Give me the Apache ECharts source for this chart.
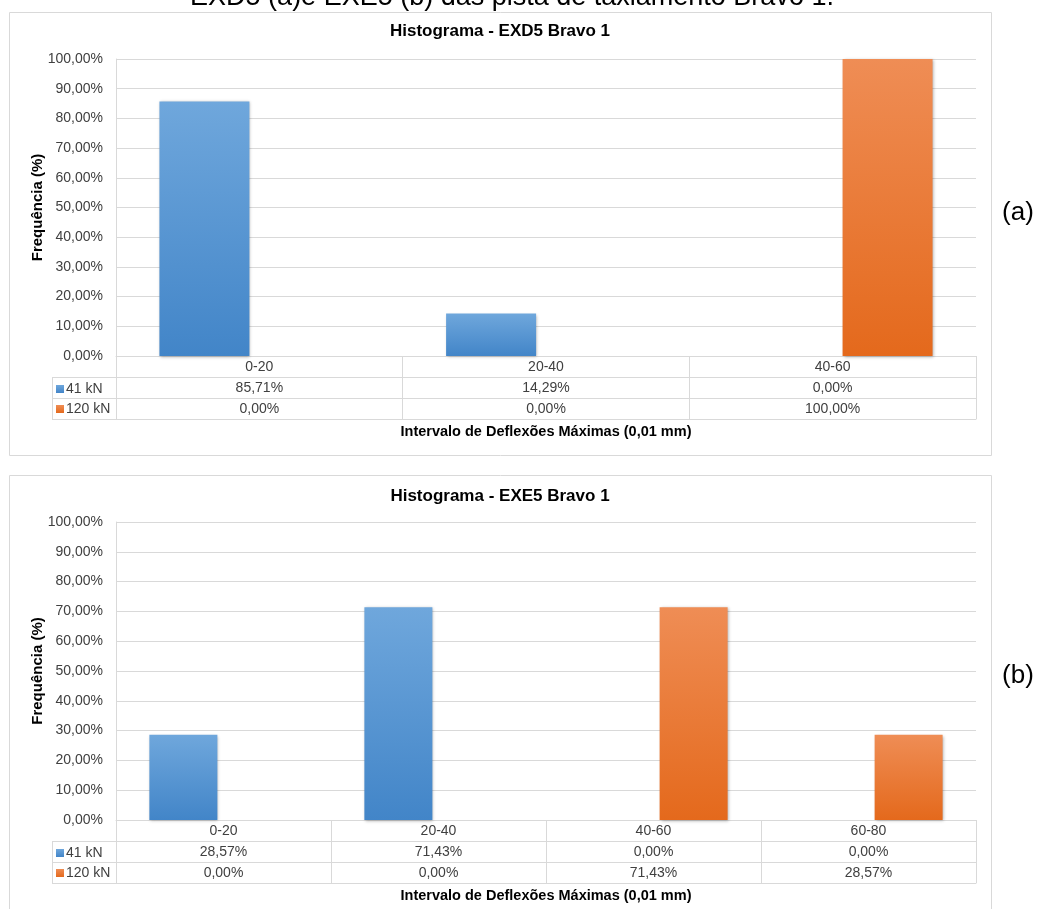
<!DOCTYPE html>
<html>
<head>
<meta charset="utf-8">
<script src="https://cdn.jsdelivr.net/npm/echarts@6/dist/echarts.min.js"></script>
<style>
html,body{margin:0;padding:0;background:#fff;}
#chart{width:1049px;height:909px;}
</style>
</head>
<body>
<div id="chart"></div>
<script>
// ---- data ----
const pageTitle = 'EXD5 (a)e EXE5 (b) das pista de taxiamento Bravo 1.';
const titleA = 'Histograma - EXD5 Bravo 1';
const titleB = 'Histograma - EXE5 Bravo 1';
const seriesNames = ['41 kN', '120 kN'];
const categoriesA = ['0-20', '20-40', '40-60'];
const kn41A = [85.71, 14.29, 0.00];
const kn120A = [0.00, 0.00, 100.00];
const categoriesB = ['0-20', '20-40', '40-60', '60-80'];
const kn41B = [28.57, 71.43, 0.00, 0.00];
const kn120B = [0.00, 0.00, 71.43, 28.57];
const yMin = 0, yMax = 100, yStep = 10;
const xAxisTitle = 'Intervalo de Deflexões Máximas (0,01 mm)';
const yAxisTitle = 'Frequência (%)';
const panelLabels = ['(a)', '(b)'];

// ---- styling ----
const FONT = "'Liberation Sans', Arial, sans-serif";
const GRID_C = '#d9d9d9';
const TXT_C = '#404040';
const fmt = v => v.toFixed(2).replace('.', ',') + '%';
const blueGrad = new echarts.graphic.LinearGradient(0, 0, 0, 1, [
  {offset: 0, color: '#6fa7dc'}, {offset: 1, color: '#4285c8'}]);
const orangeGrad = new echarts.graphic.LinearGradient(0, 0, 0, 1, [
  {offset: 0, color: '#ef8d55'}, {offset: 1, color: '#e4691c'}]);

const chart = echarts.init(document.getElementById('chart'));

const panels = [
  {cats: categoriesA, s1: kn41A, s2: kn120A, title: titleA, titleY: 31, gridTop: 59, gridH: 297, barW: 90, gap: '22%', boxTop: 12, boxH: 443},
  {cats: categoriesB, s1: kn41B, s2: kn120B, title: titleB, titleY: 496, gridTop: 522, gridH: 298, barW: 68, gap: '18%', boxTop: 475, boxH: 440}
];
const GRID_L = 116, GRID_W = 860, ROW = 21, LEG_L = 52;

const grid = [], xAxis = [], yAxis = [], series = [], legend = [], graphic = [];

graphic.push({type: 'text', x: 512, y: 11, style: {text: pageTitle, font: '27px ' + FONT, fill: '#000', align: 'center', verticalAlign: 'bottom'}});

panels.forEach((p, i) => {
  grid.push({left: GRID_L, top: p.gridTop, width: GRID_W, height: p.gridH});
  const xBase = xAxis.length;
  const tableH = ROW * 3;
  // category row
  xAxis.push({type: 'category', gridIndex: i, data: p.cats, position: 'bottom',
    axisLine: {show: true, lineStyle: {color: GRID_C}},
    axisTick: {show: true, interval: 0, length: tableH, lineStyle: {color: GRID_C}},
    axisLabel: {color: TXT_C, fontSize: 14, fontFamily: FONT, margin: 4, interval: 0},
    splitLine: {show: false}});
  // value rows
  [p.s1, p.s2].forEach((vals, k) => {
    xAxis.push({type: 'category', gridIndex: i, data: vals.map(fmt), position: 'bottom', offset: ROW * (k + 1),
      axisLine: {show: true, lineStyle: {color: GRID_C}},
      axisTick: {show: false},
      axisLabel: {color: TXT_C, fontSize: 14, fontFamily: FONT, margin: 4, interval: 0},
      splitLine: {show: false}});
  });
  // bottom border of table + axis title
  xAxis.push({type: 'category', gridIndex: i, data: p.cats, position: 'bottom', offset: ROW * 3,
    axisLine: {show: true, lineStyle: {color: GRID_C}},
    axisTick: {show: false}, axisLabel: {show: false}, splitLine: {show: false},
    name: xAxisTitle, nameLocation: 'middle', nameGap: 5,
    nameTextStyle: {fontFamily: FONT, fontSize: 14.5, fontWeight: 'bold', color: '#000', verticalAlign: 'top'}});
  yAxis.push({type: 'value', gridIndex: i, min: yMin, max: yMax, interval: yStep,
    axisLine: {show: true, lineStyle: {color: GRID_C}},
    axisTick: {show: false},
    axisLabel: {color: TXT_C, fontSize: 14, fontFamily: FONT, margin: 13, formatter: v => fmt(v)},
    splitLine: {show: true, lineStyle: {color: GRID_C}},
    name: yAxisTitle, nameLocation: 'middle', nameGap: 71, nameRotate: 90, nameMoveOverlap: false,
    nameTextStyle: {fontFamily: FONT, fontSize: 15, fontWeight: 'bold', color: '#000'}});
  const common = {type: 'bar', xAxisIndex: xBase, yAxisIndex: i, barWidth: p.barW, barGap: p.gap};
  series.push(Object.assign({}, common, {name: seriesNames[0], data: p.s1,
    itemStyle: {color: blueGrad, shadowColor: 'rgba(0,0,0,0.3)', shadowBlur: 3, shadowOffsetX: 1, shadowOffsetY: 1}}));
  series.push(Object.assign({}, common, {name: seriesNames[1], data: p.s2,
    itemStyle: {color: orangeGrad, shadowColor: 'rgba(0,0,0,0.3)', shadowBlur: 3, shadowOffsetX: 1, shadowOffsetY: 1}}));
  const tTop = p.gridTop + p.gridH;
  legend.push({orient: 'vertical', left: LEG_L + 4, top: tTop + ROW + 5, itemWidth: 8, itemHeight: 8, itemGap: 6,
    icon: 'rect', data: seriesNames, selectedMode: false,
    textStyle: {fontFamily: FONT, fontSize: 14, color: TXT_C, padding: [0, 0, 0, -3]}, padding: 0});
  // legend column borders
  [1, 2, 3].forEach(r => {
    graphic.push({type: 'line', shape: {x1: LEG_L, y1: tTop + ROW * r + 0.5, x2: GRID_L, y2: tTop + ROW * r + 0.5}, style: {stroke: GRID_C, lineWidth: 1}});
  });
  graphic.push({type: 'line', shape: {x1: LEG_L + 0.5, y1: tTop + ROW, x2: LEG_L + 0.5, y2: tTop + ROW * 3 + 0.5}, style: {stroke: GRID_C, lineWidth: 1}});
  // panel box
  graphic.push({type: 'rect', shape: {x: 9.5, y: p.boxTop + 0.5, width: 982, height: p.boxH}, style: {fill: 'none', stroke: GRID_C, lineWidth: 1}, z: -1});
  // panel title
  graphic.push({type: 'text', x: 500, y: p.titleY, style: {text: p.title, font: 'bold 17px ' + FONT, fill: '#000', align: 'center', verticalAlign: 'middle'}});
  // side label
  graphic.push({type: 'text', x: 1018, y: p.gridTop + p.gridH / 2 + 5, style: {text: panelLabels[i], font: '26px ' + FONT, fill: '#000', align: 'center', verticalAlign: 'middle'}});
});

chart.setOption({
  animation: false,
  textStyle: {fontFamily: FONT},
  grid, xAxis, yAxis, series, legend, graphic
});
</script>
</body>
</html>
